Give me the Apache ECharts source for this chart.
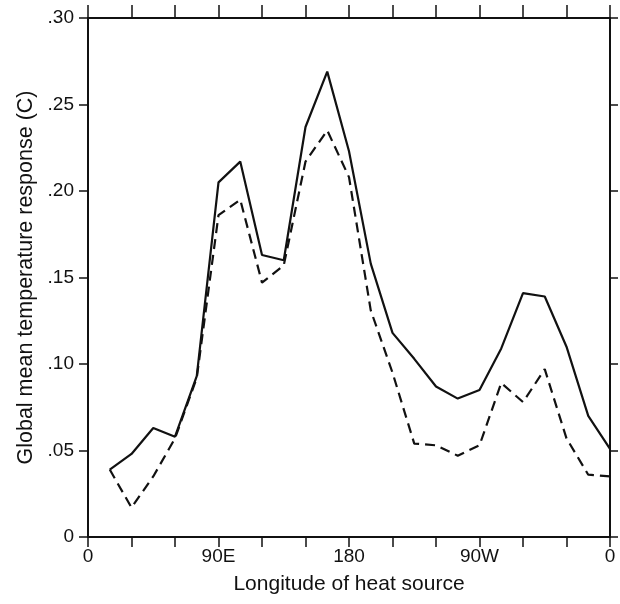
<!DOCTYPE html>
<html>
<head>
<meta charset="utf-8">
<script src="https://cdn.jsdelivr.net/npm/echarts@6/dist/echarts.min.js"></script>
<style>
  html, body { margin: 0; padding: 0; background: #fff; }
  #chart { width: 620px; height: 604px; }
</style>
</head>
<body>
<div id="chart"></div>
<script>
// longitude of heat source (degrees east, 0..360)
const longitudes = [15, 30, 45, 60, 75, 90, 105, 120, 135, 150, 165, 180,
  195, 210, 225, 240, 255, 270, 285, 300, 315, 330, 345, 360]

// global mean temperature response (C)
const solidValues = [0.039, 0.048, 0.063, 0.058, 0.093, 0.205, 0.217, 0.163, 0.160, 0.237, 0.269, 0.223,
  0.158, 0.118, 0.103, 0.087, 0.080, 0.085, 0.109, 0.141, 0.139, 0.110, 0.070, 0.051]
const dashedValues = [0.039, 0.017, 0.035, 0.057, 0.092, 0.186, 0.195, 0.147, 0.157, 0.217, 0.235, 0.208,
  0.131, 0.095, 0.054, 0.053, 0.047, 0.053, 0.089, 0.078, 0.097, 0.057, 0.036, 0.035]

const xTickLabels = { 0: '0', 90: '90E', 180: '180', 270: '90W', 360: '0' }

const font = 'Liberation Sans, Arial, Helvetica, sans-serif'
const black = '#111'

const chart = echarts.init(document.getElementById('chart'))

const yLabel = (v) => {
  if (Math.abs(v) < 1e-9) return '0'
  return '.' + String(Math.round(v * 100)).padStart(2, '0')
}

const axisBase = {
  type: 'value',
  axisLine: { show: true, onZero: false, lineStyle: { color: black, width: 2 } },
  axisTick: { show: true, inside: false, lineStyle: { color: black, width: 1.5 } },
  splitLine: { show: false }
}

chart.setOption({
  animation: false,
  backgroundColor: '#fff',
  grid: { left: 88, right: 10, top: 18, bottom: 67, containLabel: false },
  xAxis: [
    {
      ...axisBase,
      position: 'bottom',
      min: 0, max: 360, interval: 30,
      axisTick: { ...axisBase.axisTick, length: 10 },
      axisLabel: {
        color: black, fontFamily: font, fontSize: 19, margin: 10,
        formatter: (v) => xTickLabels[v] ?? ''
      },
      name: 'Longitude of heat source',
      nameLocation: 'middle',
      nameGap: 37,
      nameTextStyle: { color: black, fontFamily: font, fontSize: 21 }
    },
    {
      ...axisBase,
      position: 'top',
      min: 0, max: 360, interval: 30,
      axisTick: { ...axisBase.axisTick, length: 13 },
      axisLabel: { show: false }
    }
  ],
  yAxis: [
    {
      ...axisBase,
      position: 'left',
      min: 0, max: 0.30, interval: 0.05,
      axisTick: { ...axisBase.axisTick, length: 9 },
      axisLabel: {
        color: black, fontFamily: font, fontSize: 19, margin: 14,
        formatter: yLabel
      },
      name: 'Global mean temperature response (C)',
      nameLocation: 'middle',
      nameGap: 50,
      nameRotate: 90,
      nameTextStyle: { color: black, fontFamily: font, fontSize: 21.5 }
    },
    {
      ...axisBase,
      position: 'right',
      min: 0, max: 0.30, interval: 0.05,
      axisTick: { ...axisBase.axisTick, length: 8 },
      axisLabel: { show: false }
    }
  ],
  series: [
    {
      name: 'solid',
      type: 'line',
      showSymbol: false,
      data: longitudes.map((x, i) => [x, solidValues[i]]),
      lineStyle: { color: black, width: 2.2, type: 'solid' }
    },
    {
      name: 'dashed',
      type: 'line',
      showSymbol: false,
      data: longitudes.map((x, i) => [x, dashedValues[i]]),
      lineStyle: { color: black, width: 2.2, type: [10, 6] }
    }
  ]
})
</script>
</body>
</html>
